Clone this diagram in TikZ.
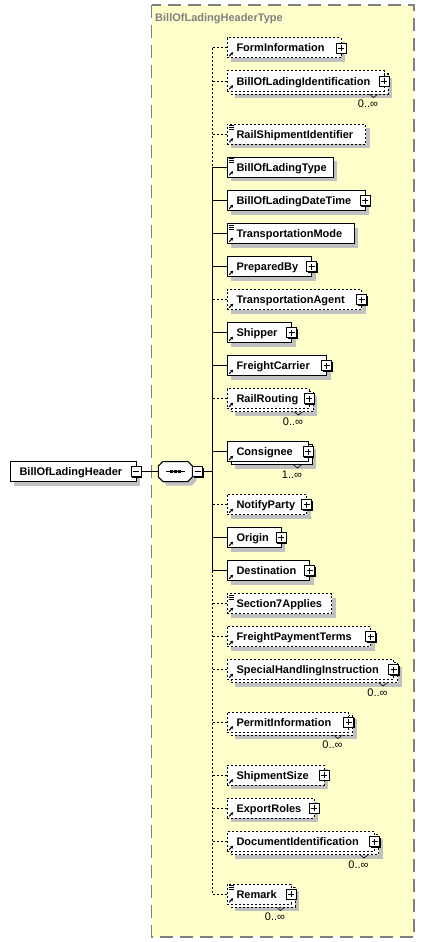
\documentclass[tikz,border=0pt]{standalone}
\usepackage{fontspec}
\setmainfont{Liberation Sans}
\usetikzlibrary{arrows.meta,shadows,backgrounds}

\definecolor{typefill}{RGB}{255,255,204}
\definecolor{typeline}{RGB}{128,128,128}
\definecolor{boxshade}{RGB}{192,192,192}

\newcommand{\elemarrow}{%
  \draw[solid,line width=1pt,-{Stealth[length=3pt,width=3.2pt]}]
    ([shift={(2.2,-1.8)}]path picture bounding box.south west) -- ++(4,-4);}
\newcommand{\elemlines}{%
  \foreach \k in {1.5,3.5,5.5}
    \draw[solid,line width=0.9pt] ([shift={(1.5,\k)}]path picture bounding box.north west) -- ++(5,0);}

\tikzset{
  elem/.style={draw, fill=white, line width=1pt, anchor=west, align=left, outer sep=0pt,
    minimum height=20pt, inner xsep=0pt, inner ysep=0pt, text width=#1,
    text height=9pt, text depth=1pt, font=\fontsize{11}{13}\selectfont\bfseries,
    execute at begin node=\hspace*{9.5pt}, path picture={\elemarrow}},
  simple/.style={path picture={\elemarrow\elemlines}},
  opt/.style={dash pattern=on 2pt off 2pt},
  single/.style={drop shadow={shadow xshift=4pt, shadow yshift=-4pt, fill=boxshade, opacity=1}},
  expand/.style={draw, fill=white, line width=0.8pt, solid, minimum size=10pt, inner sep=0pt,
    drop shadow={shadow xshift=1pt, shadow yshift=-1pt, fill=black, opacity=1},
    path picture={\draw[line width=0.8pt]
      ([xshift=-3pt]path picture bounding box.center) -- ([xshift=3pt]path picture bounding box.center)
      ([yshift=-3pt]path picture bounding box.center) -- ([yshift=3pt]path picture bounding box.center);}},
  collapse/.style={draw, fill=white, line width=0.8pt, solid, minimum size=10pt, inner sep=0pt,
    drop shadow={shadow xshift=1pt, shadow yshift=-1pt, fill=black, opacity=1},
    path picture={\draw[line width=0.8pt]
      ([xshift=-3pt]path picture bounding box.center) -- ([xshift=3pt]path picture bounding box.center);}},
  seq/.style={minimum width=34pt, minimum height=20pt, inner sep=0pt, outer sep=0pt},
  occ/.style={font=\fontsize{11}{13}\selectfont, inner sep=0pt},
  notch/.style={line width=0.6pt},
  link/.style={line width=1pt},
}

\begin{document}
\begin{tikzpicture}[x=1pt, y=-1pt]
\useasboundingbox (0,0) rectangle (425,942);

\node[anchor=west, inner sep=0pt, text=typeline, font=\fontsize{11}{13}\selectfont\bfseries] (typename) at (155,19) {BillOfLadingHeaderType};

% root element and sequence
\node[elem=126pt, single, path picture={}] (root) at (10,471.5) {BillOfLadingHeader};
\node[collapse] (root-m) at (root.east) {};
\node[seq] (seq) at (175.3,471.5) {};
\draw[link, fill=white, drop shadow={shadow xshift=4pt, shadow yshift=-4pt, fill=boxshade, opacity=1}]
  ([xshift=4.5pt]seq.north west) -- ([xshift=-4.5pt]seq.north east) -- ([yshift=-4.5pt]seq.north east)
  -- ([yshift=4.5pt]seq.south east) -- ([xshift=-4.5pt]seq.south east) -- ([xshift=4.5pt]seq.south west)
  -- ([yshift=4.5pt]seq.south west) -- ([yshift=-4.5pt]seq.north west) -- cycle;
\node[collapse, anchor=west] (seq-m) at (seq.east) {};
\coordinate (trunk) at (212.5,471.5);
\draw[link] (root-m) -- (seq);
\draw[link] (seq-m) -- (seq-m -| trunk);
\draw[link] ([xshift=-9.5pt]seq.center) -- ([xshift=9.5pt]seq.center);
\foreach \d in {-4,0,4}
  \fill ([xshift=\d pt]seq.center) +(-1.5,-1.5) rectangle +(1.5,1.5);

% children
\node[elem=114pt, opt, single] (forminfo) at (227,48) {FormInformation};
\node[expand] (forminfo-p) at (forminfo.east) {};
\node[elem=157pt, opt] (bolid) at (227,81) {BillOfLadingIdentification};
\node[expand] (bolid-p) at (bolid.east) {};
\node[elem=138.5pt, opt, simple, single] (railship) at (227,134) {RailShipmentIdentifier};
\node[elem=106pt, simple, single] (boltype) at (227,167) {BillOfLadingType};
\node[elem=138pt, single] (boldt) at (227,200.5) {BillOfLadingDateTime};
\node[expand] (boldt-p) at (boldt.east) {};
\node[elem=127.3pt, simple, single] (transmode) at (227,233.5) {TransportationMode};
\node[elem=84.7pt, single] (prepby) at (227,266.5) {PreparedBy};
\node[expand] (prepby-p) at (prepby.east) {};
\node[elem=134.7pt, opt, single] (transagent) at (227,299.5) {TransportationAgent};
\node[expand] (transagent-p) at (transagent.east) {};
\node[elem=64.7pt, single] (shipper) at (227,332.5) {Shipper};
\node[expand] (shipper-p) at (shipper.east) {};
\node[elem=99.7pt, single] (carrier) at (227,365.5) {FreightCarrier};
\node[expand] (carrier-p) at (carrier.east) {};
\node[elem=82pt, opt] (railrouting) at (227,398.5) {RailRouting};
\node[expand] (railrouting-p) at (railrouting.east) {};
\node[elem=81pt] (consignee) at (227,451.5) {Consignee};
\node[expand] (consignee-p) at (consignee.east) {};
\node[elem=79.7pt, opt, single] (notify) at (227,504.5) {NotifyParty};
\node[expand] (notify-p) at (notify.east) {};
\node[elem=54pt, single] (origin) at (227,537.5) {Origin};
\node[expand] (origin-p) at (origin.east) {};
\node[elem=82.7pt, single] (dest) at (227,570.5) {Destination};
\node[expand] (dest-p) at (dest.east) {};
\node[elem=104.7pt, opt, simple, single] (sec7) at (227,603.5) {Section7Applies};
\node[elem=143.7pt, opt, single] (freightpay) at (227,636.5) {FreightPaymentTerms};
\node[expand] (freightpay-p) at (freightpay.east) {};
\node[elem=166.5pt, opt] (special) at (227,669.5) {SpecialHandlingInstruction};
\node[expand] (special-p) at (special.east) {};
\node[elem=121.5pt, opt] (permit) at (227,722) {PermitInformation};
\node[expand] (permit-p) at (permit.east) {};
\node[elem=97pt, opt, single] (shipsize) at (227,775) {ShipmentSize};
\node[expand] (shipsize-p) at (shipsize.east) {};
\node[elem=87pt, opt, single] (export) at (227,808) {ExportRoles};
\node[expand] (export-p) at (export.east) {};
\node[elem=147.5pt, opt] (docid) at (227,841.5) {DocumentIdentification};
\node[expand] (docid-p) at (docid.east) {};
\node[elem=64pt, opt, simple] (remark) at (227,894) {Remark};
\node[expand] (remark-p) at (remark.east) {};

% occurrences
\node[occ] (bolid-o) at ([shift={(-16,23)}]bolid.east) {0..∞};
\node[occ] (railrouting-o) at ([shift={(-16,23)}]railrouting.east) {0..∞};
\node[occ] (consignee-o) at ([shift={(-16,23)}]consignee.east) {1..∞};
\node[occ] (special-o) at ([shift={(-16,23)}]special.east) {0..∞};
\node[occ] (permit-o) at ([shift={(-16,23)}]permit.east) {0..∞};
\node[occ] (docid-o) at ([shift={(-16,23)}]docid.east) {0..∞};
\node[occ] (remark-o) at ([shift={(-16,23)}]remark.east) {0..∞};
\foreach \n in {bolid,railrouting,consignee,special,permit,docid,remark}
  \draw[notch] ([shift={(-15,13)}]\n.east) -- ++(4.5,3.5) -- ++(4.5,-3.5);

% connectors
\draw[link, opt] (forminfo.west -| trunk) -- (boltype.west -| trunk);
\draw[link] (boltype.west -| trunk) -- (dest.west -| trunk);
\draw[link, opt] (dest.west -| trunk) -- (remark.west -| trunk);
\foreach \n in {forminfo,bolid,railship,transagent,railrouting,notify,sec7,freightpay,special,permit,shipsize,export,docid,remark}
  \draw[link, opt] (\n.west -| trunk) -- (\n.west);
\foreach \n in {boltype,boldt,transmode,prepby,shipper,carrier,consignee,origin,dest}
  \draw[link] (\n.west -| trunk) -- (\n.west);

\begin{scope}[on background layer]
  \draw[typeline, fill=typefill, line width=1.3pt, dash pattern=on 13pt off 7pt] (151.5,5) rectangle (414,937);
  \foreach \n in {bolid,railrouting,special,permit,docid,remark} {
    \fill[boxshade] ([shift={(8,7)}]\n.north west) rectangle ([shift={(8,7)}]\n.south east);
    \draw[fill=white, line width=1pt, opt] ([shift={(4,3)}]\n.north west) rectangle ([shift={(4,3)}]\n.south east);
  }
  \fill[boxshade] ([shift={(8,7)}]consignee.north west) rectangle ([shift={(8,7)}]consignee.south east);
  \draw[fill=white, line width=1pt] ([shift={(4,3)}]consignee.north west) rectangle ([shift={(4,3)}]consignee.south east);
\end{scope}
\end{tikzpicture}
\end{document}
